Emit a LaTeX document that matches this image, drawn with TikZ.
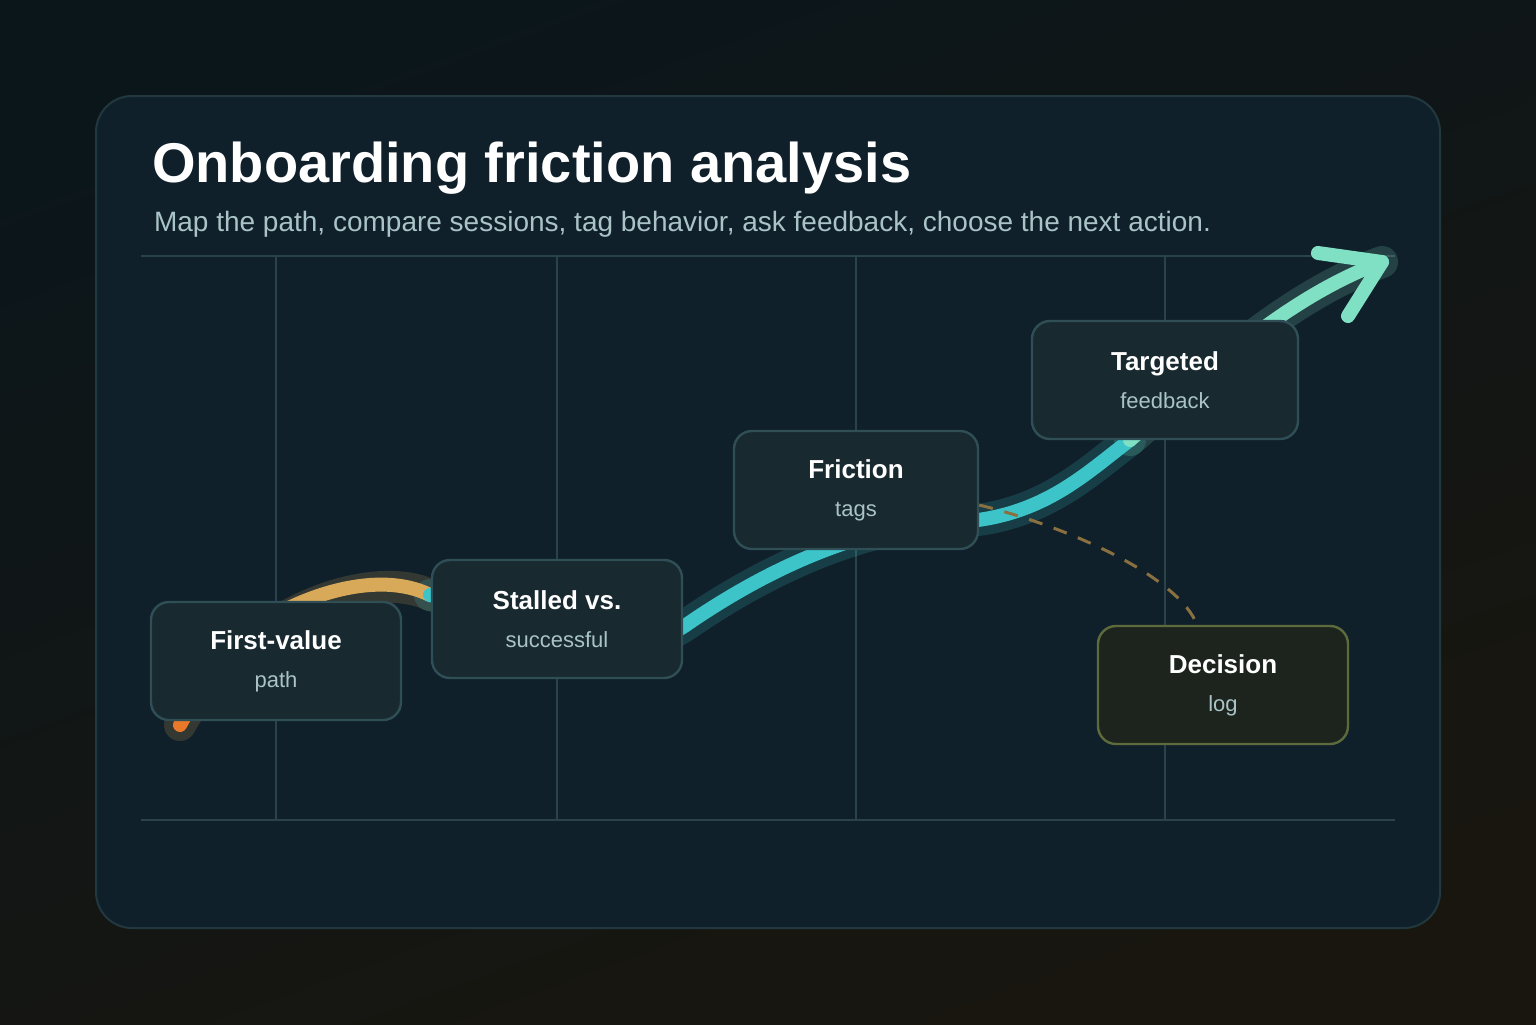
\documentclass[tikz,border=0pt]{standalone}
\usepackage{fontspec}
\setmainfont{Liberation Sans}
\usetikzlibrary{positioning}
\definecolor{bgtop}{HTML}{0B161B}
\definecolor{bgbot}{HTML}{19160F}
\definecolor{cardfill}{HTML}{10202A}
\definecolor{cardline}{HTML}{22383F}
\definecolor{gridline}{HTML}{2A4349}
\definecolor{boxfill}{HTML}{18292F}
\definecolor{boxline}{HTML}{2F4E55}
\definecolor{decfill}{HTML}{1D241D}
\definecolor{decline}{HTML}{5C6A3C}
\definecolor{subtext}{HTML}{A9C3C6}
\definecolor{flowor}{HTML}{E8782A}
\definecolor{flowyl}{HTML}{D9A95A}
\definecolor{flowtl}{HTML}{3CC4C8}
\definecolor{flowmt}{HTML}{7FE0C4}
\definecolor{dashbr}{HTML}{8A7040}
\tikzset{
  stepcard/.style={draw=boxline, line width=1.2pt, fill=boxfill, rounded corners=9pt,
    minimum width=125pt, minimum height=59pt, align=center},
  decisioncard/.style={stepcard, draw=decline, fill=decfill},
  cardtitle/.style={font=\fontsize{13}{15}\selectfont\bfseries, text=white},
  cardsub/.style={font=\fontsize{11}{13}\selectfont, text=subtext},
  flow/.style={line width=7pt, line cap=round},
  glow/.style={line width=16pt, line cap=round, opacity=0.18},
}
\newcommand{\stepcontent}[2]{{\fontsize{13}{15}\selectfont\bfseries\color{white}#1}\\[7pt]{\fontsize{11}{13}\selectfont\color{subtext}#2}}
\begin{document}
\begin{tikzpicture}[x=0.5pt,y=-0.5pt]
% background and card
\shade[top color=bgtop, bottom color=bgbot, shading angle=20] (0,0) rectangle (1536,1024);
\useasboundingbox (0,0) rectangle (1536,1024);
\draw[cardline, fill=cardfill, line width=1pt, rounded corners=18pt] (96,96) rectangle (1440,928);
% title
\node[anchor=base west, font=\fontsize{28}{32}\selectfont\bfseries, text=white] (title) at (145,182) {Onboarding friction analysis};
\node[anchor=base west, font=\fontsize{14}{17}\selectfont, text=subtext] (subtitle) at (147,231) {Map the path, compare sessions, tag behavior, ask feedback, choose the next action.};
% grid
\draw[gridline, line width=0.8pt] (141,256) -- (1395,256);
\draw[gridline, line width=0.8pt] (141,820) -- (1395,820);
\foreach \gx in {276,557,856,1165}
  \draw[gridline, line width=0.8pt] (\gx,256) -- (\gx,820);
% flow coordinates
\coordinate (start) at (180,725);
\coordinate (p1) at (430,595);
\coordinate (p2) at (686,625);
\coordinate (p3) at (978,520);
\coordinate (p4) at (1130,440);
\coordinate (tip) at (1382,262);
% glow
\draw[glow, flowyl] (start) .. controls (250,600) and (380,570) .. (p1);
\draw[glow, flowtl] (p1) .. controls (520,620) and (620,670) .. (p2) .. controls (780,560) and (880,520) .. (p3)
  .. controls (1050,510) and (1090,470) .. (p4);
\draw[glow, flowmt] (p4) .. controls (1200,380) and (1280,300) .. (tip);
% flow line
\draw[flow, flowor] (start) .. controls (205,680) and (230,640) .. (275,615);
\draw[flow, flowyl] (275,615) .. controls (330,585) and (390,575) .. (p1);
\draw[flow, flowtl] (p1) .. controls (520,620) and (620,670) .. (p2) .. controls (780,560) and (880,520) .. (p3)
  .. controls (1050,510) and (1090,470) .. (p4);
\draw[flow, flowmt] (p4) .. controls (1200,380) and (1280,300) .. (tip);
\draw[flow, flowmt, line join=round] (1318,253) -- (tip) -- (1348,316);
% step cards
\node[stepcard] (firstvalue) at (276,661) {\stepcontent{First-value}{path}};
\node[stepcard] (stalled) at (557,619) {\stepcontent{Stalled vs.}{successful}};
\node[stepcard, minimum width=122pt] (friction) at (856,490) {\stepcontent{Friction}{tags}};
\node[stepcard, minimum width=133pt] (targeted) at (1165,380) {\stepcontent{Targeted}{feedback}};
% dashed link to decision
\node[decisioncard] (decision) at (1223,685) {\stepcontent{Decision}{log}};
\draw[dashbr, line width=1.5pt, dash pattern=on 7pt off 6pt] (friction.east |- 0,505) .. controls (1080,530) and (1180,580) .. ([xshift=-13]decision.north);
\end{tikzpicture}
\end{document}
